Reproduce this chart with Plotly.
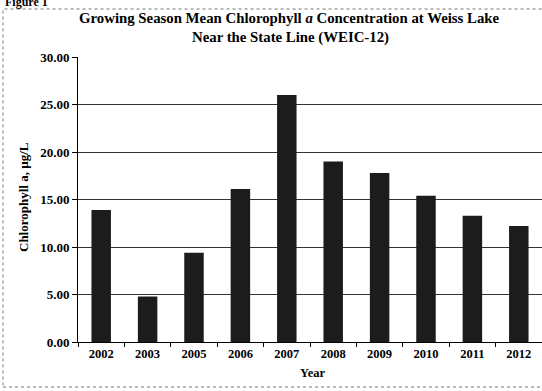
import plotly.graph_objects as go

years = ['2002', '2003', '2005', '2006', '2007', '2008', '2009', '2010', '2011', '2012']
chl = [13.9, 4.8, 9.4, 16.1, 26.0, 19.0, 17.8, 15.4, 13.3, 12.2]
yticks = [0, 5, 10, 15, 20, 25, 30]
ytick_text = ['0.00', '5.00', '10.00', '15.00', '20.00', '25.00', '30.00']

serif = 'Liberation Serif'

fig = go.Figure()
fig.add_trace(go.Bar(x=years, y=chl, marker=dict(color='#1c1c1c', line=dict(width=0)),
                     width=0.42))

fig.update_layout(
    width=542, height=391,
    margin=dict(l=78, r=0, t=57, b=49),
    paper_bgcolor='white', plot_bgcolor='white',
    font=dict(family=serif, size=12, color='black'),
    showlegend=False,
)

fig.update_xaxes(type='category', showline=True, linecolor='black', linewidth=1,
                 ticks='outside', tickson='boundaries', ticklen=4, tickcolor='black',
                 tickfont=dict(family=serif, size=12.5, weight='bold'), showgrid=False)
fig.update_yaxes(range=[0, 30], tickvals=yticks, ticktext=ytick_text,
                 showline=True, linecolor='black', linewidth=1,
                 ticks='outside', ticklen=5, tickcolor='black',
                 showgrid=True, gridcolor='#333', gridwidth=1.2, zeroline=False,
                 tickfont=dict(family=serif, size=13, weight='bold'))

# pixel -> paper helpers (plot area is x 78..542, y 57..342)
px = lambda v: (v - 78) / 464
py = lambda v: (342 - v) / 285

title_font = dict(family=serif, size=14.8, weight='bold')
fig.add_annotation(text='Growing Season Mean Chlorophyll <i>a</i> Concentration at Weiss Lake',
                   xref='paper', yref='paper', x=px(289), y=py(18), xanchor='center', yanchor='middle',
                   showarrow=False, font=title_font)
fig.add_annotation(text='Near the State Line (WEIC-12)',
                   xref='paper', yref='paper', x=px(290), y=py(37), xanchor='center', yanchor='middle',
                   showarrow=False, font=title_font)

# axis titles
fig.add_annotation(text='Chlorophyll a, µg/L', xref='paper', yref='paper',
                   x=px(23), y=py(197), xanchor='center', yanchor='middle',
                   textangle=-90, showarrow=False,
                   font=dict(family=serif, size=13, weight='bold'))
fig.add_annotation(text='Year', xref='paper', yref='paper',
                   x=px(312), y=py(373), xanchor='center', yanchor='middle', showarrow=False,
                   font=dict(family=serif, size=12.5, weight='bold'))

# cropped figure caption at the very top
fig.add_annotation(text='Figure 1', xref='paper', yref='paper',
                   x=px(3), y=py(2), xanchor='left', yanchor='middle',
                   showarrow=False, font=dict(family=serif, size=12, weight='bold'))

# dashed frame around the chart
fig.add_shape(type='rect', xref='paper', yref='paper',
              x0=px(3), x1=1.02, y0=py(387), y1=py(9),
              line=dict(color='#777', width=1, dash='dot'))

fig.write_html("out.html", config={'displayModeBar': False},
               post_script="document.body.style.margin='0';")
